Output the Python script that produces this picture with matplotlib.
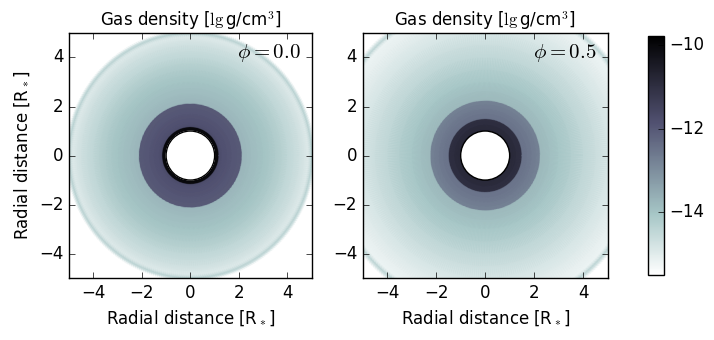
import numpy as np
import matplotlib
matplotlib.use('Agg')
import matplotlib.pyplot as plt
from matplotlib.patches import Circle

plt.style.use('classic')
plt.rcParams['figure.facecolor'] = 'white'
plt.rcParams['savefig.facecolor'] = 'white'
plt.rcParams['mathtext.fontset'] = 'cm'

# radial density profiles (radius in R_*, value in lg g/cm^3)
# repeated radii mark the sharp jumps between the shells
r_phase0 = [1.05, 1.17, 1.17, 1.3, 1.7, 2.13, 2.13, 2.5, 3.0, 3.5, 4.0, 4.5, 4.85, 5.0, 5.12]
lgrho_phase0 = [-10.0, -10.1, -11.75, -11.85, -11.95, -12.05, -13.75, -13.85, -14.0, -14.2,
                -14.45, -14.7, -14.95, -14.35, -15.6]

r_phase5 = [1.0, 1.5, 1.5, 1.9, 2.25, 2.25, 3.0, 4.0, 5.0, 5.8, 6.15, 6.3, 6.45]
lgrho_phase5 = [-10.85, -11.05, -12.5, -12.65, -12.8, -13.8, -14.05, -14.45, -14.85, -15.1,
                -15.2, -14.4, -15.6]

phases = ['0.0', '0.5']
profiles = [(r_phase0, lgrho_phase0), (r_phase5, lgrho_phase5)]

vmin, vmax = -15.5, -9.78
cb_ticks = [-14, -12, -10]
ticks = [-4, -2, 0, 2, 4]

fig = plt.figure(figsize=(7.14, 3.4), dpi=100)
ax_pos = [[0.0966, 0.182, 0.340, 0.721], [0.508, 0.182, 0.343, 0.721]]

theta = np.linspace(0, 2 * np.pi, 361)
for i, (ph, (rr, vals)) in enumerate(zip(phases, profiles)):
    ax = fig.add_axes(ax_pos[i])
    R, T = np.meshgrid(np.array(rr), theta)
    C = np.tile(np.array(vals), (len(theta), 1))
    mesh = ax.pcolormesh(R * np.cos(T), R * np.sin(T), C, shading='gouraud',
                         cmap='bone_r', vmin=vmin, vmax=vmax)
    ax.add_patch(Circle((0, 0), 1.0, facecolor='white', edgecolor='black', lw=1, zorder=3))
    ax.set_xlim(-5, 5)
    ax.set_ylim(-5, 5)
    ax.set_xticks(ticks)
    ax.set_yticks(ticks)
    ax.set_title('Gas density [$\\lg$g/cm$^3$]', fontsize=12)
    ax.set_xlabel('Radial distance [R$_*$]', fontsize=12)
    if i == 0:
        ax.set_ylabel('Radial distance [R$_*$]', fontsize=12)
    ax.text(4.55, 4.2, '$\\phi=%s$' % ph, fontsize=15, ha='right', va='center')

cax = fig.add_axes([0.9076, 0.191, 0.0224, 0.703])
cb = fig.colorbar(mesh, cax=cax, ticks=cb_ticks)
cb.ax.tick_params(labelsize=12)

plt.savefig('out.png', dpi=100)
